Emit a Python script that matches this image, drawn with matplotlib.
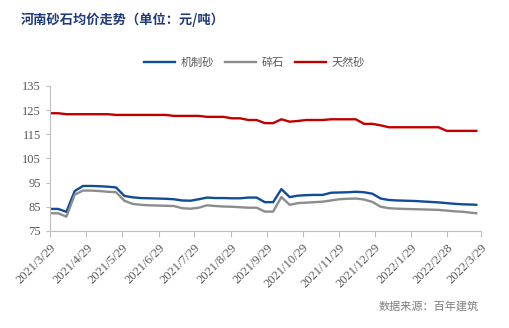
import pandas as pd
import matplotlib.pyplot as plt
import matplotlib.dates as mdates

plt.rcParams['font.family'] = ['Noto Sans CJK SC', 'DejaVu Sans']

# weekly prices, yuan/ton
dates = list(pd.date_range('2021-03-29', periods=52, freq='7D')) + [pd.Timestamp('2022-03-25')]

jizhisha = [84.1, 84.1, 82.9, 91.5, 93.6, 93.6, 93.5, 93.3, 93.0, 89.5,
            88.9, 88.6, 88.5, 88.4, 88.3, 88.1, 87.6, 87.5, 88.1, 88.8,
            88.6, 88.6, 88.5, 88.5, 88.8, 88.8, 86.9, 86.9, 92.3, 89.0,
            89.6, 89.8, 89.9, 89.9, 90.8, 90.9, 91.0, 91.2, 91.0, 90.4,
            88.4, 87.8, 87.6, 87.5, 87.4, 87.2, 87.0, 86.8, 86.5, 86.2,
            86.0, 85.9, 85.8]
suishi = [82.3, 82.3, 80.9, 90.0, 91.7, 91.7, 91.5, 91.2, 91.0, 87.5,
          86.2, 85.8, 85.6, 85.5, 85.4, 85.3, 84.4, 84.2, 84.6, 85.6,
          85.3, 85.1, 85.0, 84.8, 84.6, 84.6, 83.0, 83.0, 89.0, 85.8,
          86.5, 86.7, 86.9, 87.1, 87.6, 88.1, 88.3, 88.4, 88.0, 87.0,
          85.0, 84.4, 84.2, 84.1, 84.0, 83.9, 83.8, 83.7, 83.4, 83.1,
          82.9, 82.5, 82.3]
tianransha = [123.7, 123.7, 123.3, 123.3, 123.3, 123.3, 123.3, 123.3, 123.0, 123.0,
              123.0, 123.0, 123.0, 123.0, 123.0, 122.6, 122.6, 122.6, 122.6, 122.2,
              122.2, 122.2, 121.6, 121.6, 120.9, 120.9, 119.6, 119.6, 121.2, 120.2,
              120.5, 120.9, 120.9, 120.9, 121.2, 121.2, 121.2, 121.2, 119.3, 119.3,
              118.7, 117.9, 117.9, 117.9, 117.9, 117.9, 117.9, 117.9, 116.4, 116.4,
              116.4, 116.4, 116.4]

tick_dates = ['2021-03-29', '2021-04-29', '2021-05-29', '2021-06-29', '2021-07-29',
              '2021-08-29', '2021-09-29', '2021-10-29', '2021-11-29', '2021-12-29',
              '2022-01-29', '2022-02-28', '2022-03-29']
yticks = [75, 85, 95, 105, 115, 125, 135]

fig = plt.figure(figsize=(5.09, 3.28), dpi=100)
ax = fig.add_axes([0.098, 0.296, 0.847, 0.442])

ax.plot(dates, jizhisha, color='#0F4C9A', lw=1.7, label='机制砂')
ax.plot(dates, suishi, color='#8C8C8C', lw=1.7, label='碎石')
ax.plot(dates, tianransha, color='#C00000', lw=1.7, label='天然砂')

ax.set_xlim(pd.Timestamp('2021-03-29'), pd.Timestamp('2022-03-29'))
ax.set_ylim(75, 135)
ax.set_yticks(yticks)
ax.set_xticks(pd.to_datetime(tick_dates))
ax.xaxis.set_major_formatter(mdates.DateFormatter('%Y/%-m/%-d'))

for s in ['top', 'right']:
    ax.spines[s].set_visible(False)
for s in ['left', 'bottom']:
    ax.spines[s].set_color('#BFBFBF')

ax.tick_params(axis='both', colors='#BFBFBF', labelcolor='#595959', labelsize=9)
ax.tick_params(axis='x', length=4)
ax.tick_params(axis='y', length=3)
for lab in ax.get_xticklabels():
    lab.set_rotation(45)
    lab.set_ha('right')
    lab.set_rotation_mode('anchor')
    lab.set_family('Liberation Serif')
for lab in ax.get_yticklabels():
    lab.set_family('Liberation Serif')

fig.legend(loc='center', bbox_to_anchor=(0.5, 0.81), ncol=3, frameon=False,
           fontsize=8, handlelength=2.8, handletextpad=0.5, columnspacing=1.0,
           labelcolor='#595959')

fig.text(0.04, 0.94, '河南砂石均价走势（单位：元/吨）', fontsize=9.5, fontweight='bold',
         color='#1F3A7A', va='center')
fig.text(0.94, 0.065, '数据来源：百年建筑', fontsize=8, color='#7F7F7F', ha='right', va='center')

fig.savefig('out.png', dpi=100)
